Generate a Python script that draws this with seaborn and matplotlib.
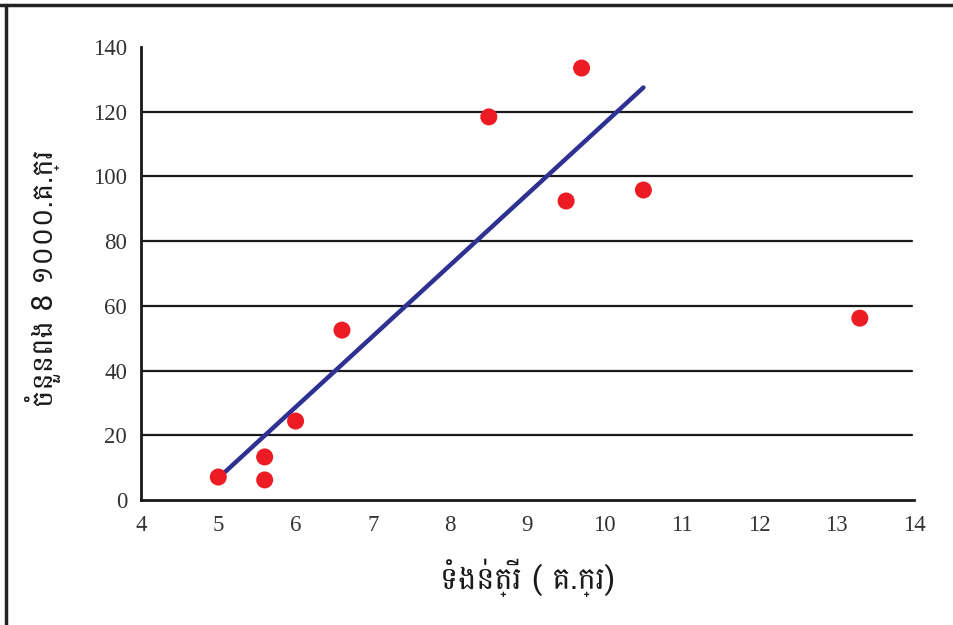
import matplotlib
matplotlib.use("Agg")
import matplotlib.pyplot as plt
from matplotlib.lines import Line2D
import seaborn as sns
import pandas as pd

# ---- data ----
weight = [5.0, 5.6, 5.6, 6.0, 6.6, 8.5, 9.5, 9.7, 10.5, 13.3]
eggs = [7.1, 13.3, 6.2, 24.4, 52.5, 118.4, 92.4, 133.5, 95.8, 56.2]
# the trend line is fitted without the last (outlier) point
fit_n = 9

x_ticks = [4, 5, 6, 7, 8, 9, 10, 11, 12, 13, 14]
y_ticks = [0, 20, 40, 60, 80, 100, 120, 140]
x_label = "ទំងន់ត្រី ( គ.ក្រ)"
y_label = "ចំនួនពង 8 ១០០០.គ.ក្រ"

df = pd.DataFrame({"weight": weight, "eggs": eggs})

sns.set_style("white")
plt.rcParams["font.family"] = ["Liberation Serif", "DejaVu Serif"]
khmer_family = ["Battambang", "DejaVu Sans"]

fig = plt.figure(figsize=(9.54, 6.25), dpi=100)
ax = fig.add_axes([0.1478, 0.2, 0.958 - 0.1478, 0.9248 - 0.2])

for y in y_ticks[1:-1]:
    ax.axhline(y, color="#1a1a1a", lw=1.6, zorder=1, xmax=0.998)

sns.regplot(data=df.iloc[:fit_n], x="weight", y="eggs", scatter=False,
            ci=None, truncate=True, ax=ax,
            line_kws={"color": "#2E3192", "lw": 3.2, "zorder": 2})
sns.scatterplot(data=df, x="weight", y="eggs", ax=ax, color="#ED1C24",
                s=150, edgecolor="none", zorder=3)

ax.set_xlim(4, 14)
ax.set_ylim(0, 140)
ax.set_xticks(x_ticks)
ax.set_yticks(y_ticks)
ax.tick_params(axis="both", direction="out", length=5, width=1.8,
               color="#1a1a1a", labelsize=16.5, labelcolor="#333333")
ax.tick_params(axis="x", pad=6)
ax.tick_params(axis="y", pad=5)

for side in ["top", "right"]:
    ax.spines[side].set_visible(False)
for side in ["left", "bottom"]:
    ax.spines[side].set_color("#1a1a1a")
    ax.spines[side].set_linewidth(2.0)

ax.set_xlabel(x_label, fontsize=22, family=khmer_family, color="#1a1a1a")
ax.set_ylabel(y_label, fontsize=21, family=khmer_family, color="#1a1a1a")
ax.xaxis.set_label_coords(0.5, -0.13)
ax.yaxis.set_label_coords(-0.103, 0.49)

# frame lines at top and left of the picture
fig.add_artist(Line2D([0, 1], [1 - 5 / 625, 1 - 5 / 625], color="#222222", lw=2.5))
fig.add_artist(Line2D([6 / 954, 6 / 954], [0, 1 - 5 / 625], color="#222222", lw=2.5))

fig.savefig("out.png", dpi=100)
